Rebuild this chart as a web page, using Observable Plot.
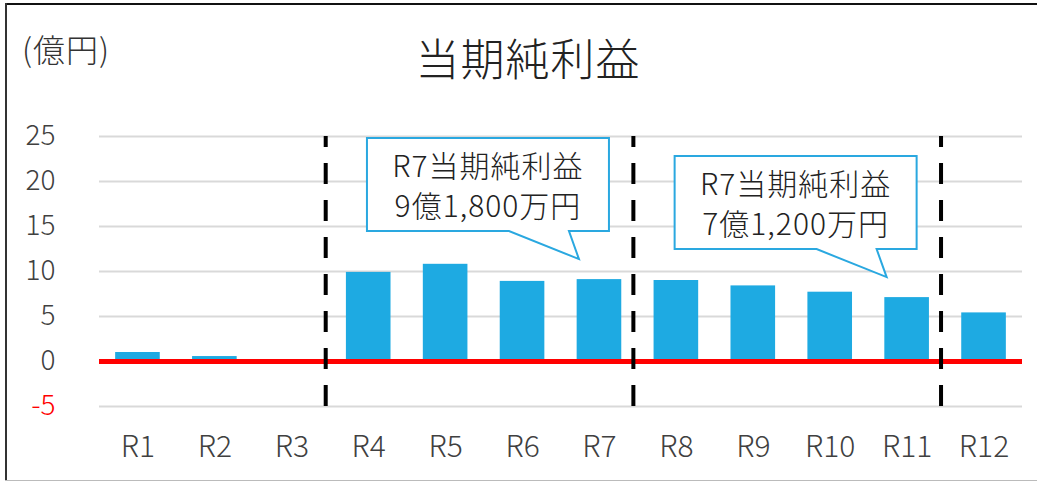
<!DOCTYPE html>
<html>
<head>
<meta charset="utf-8">
<script src="https://cdn.jsdelivr.net/npm/d3@7"></script>
<script src="https://cdn.jsdelivr.net/npm/@observablehq/plot@0.6"></script>
<style>
  html, body { margin: 0; padding: 0; background: #fff; }
  #wrap { position: relative; width: 1037px; height: 484px; overflow: hidden; background: #fff;
          font-family: "Noto Sans CJK JP", "Noto Sans", sans-serif; font-weight: 300; }
  #borderTop { position: absolute; left: 5px; top: 3px; width: 1032px; height: 2px; background: #111; }
  #borderLeft { position: absolute; left: 5px; top: 3px; width: 2px; height: 478px; background: #333; }
  #borderBottom { position: absolute; left: 5px; top: 480px; width: 1032px; height: 1px; background: #bbb; }
  #unit { position: absolute; left: 22px; top: 28px; font-size: 32px; line-height: 40px; color: #333; letter-spacing: 1px; }
  #title { position: absolute; left: 0; width: 1056px; top: 31px; text-align: center; font-size: 44px; line-height: 52px; color: #222; letter-spacing: 1px; }
  #chart { position: absolute; left: 0; top: 100px; }
</style>
</head>
<body>
<div id="wrap">
  <div id="borderTop"></div>
  <div id="borderLeft"></div>
  <div id="borderBottom"></div>
  <div id="unit">(億円)</div>
  <div id="title">当期純利益</div>
  <div id="chart"></div>
</div>
<script>
// ---- data ----
const categories = ["R1", "R2", "R3", "R4", "R5", "R6", "R7", "R8", "R9", "R10", "R11", "R12"];
const values = [1.0, 0.55, 0, 9.9, 10.8, 8.9, 9.1, 9.0, 8.4, 7.7, 7.1, 5.4];
const yTicks = [-5, 0, 5, 10, 15, 20, 25];
const dividerBefore = ["R4", "R8", "R12"];
const calloutTargets = ["R7", "R11"];
const calloutLine1 = ["R7当期純利益", "R7当期純利益"];
const calloutLine2 = ["9億1,800万円", "7億1,200万円"];

const data = categories.map((c, i) => ({cat: c, value: values[i]}));
const callouts = calloutTargets.map((t, i) => ({
  cat: t, value: values[categories.indexOf(t)], l1: calloutLine1[i], l2: calloutLine2[i]
}));

const FONT = "'Noto Sans CJK JP', 'Noto Sans', sans-serif";

function calloutMark(index, scales) {
  const g = d3.create("svg:g");
  const x = scales.x, y = scales.y;
  const bw = x.bandwidth ? x.bandwidth() : 0;
  for (const c of callouts) {
    const tx = x(c.cat) + bw / 2 - 20;
    const ty = y(c.value) - 20;
    const left = tx - 212, right = tx + 30, top = ty - 121, bottom = ty - 28;
    const path = `M${left},${top}H${right}V${bottom}H${tx - 10}L${tx},${ty}L${tx - 70},${bottom}H${left}Z`;
    g.append("path").attr("d", path).attr("fill", "white")
      .attr("stroke", "#2aa8e0").attr("stroke-width", 2);
    const cx = (left + right) / 2;
    [c.l1, c.l2].forEach((t, k) => {
      g.append("text").attr("x", cx).attr("y", top + 26 + k * 40)
        .attr("text-anchor", "middle").attr("dominant-baseline", "central")
        .attr("font-size", 30).attr("letter-spacing", 1).attr("font-weight", 300)
        .attr("font-family", FONT).attr("fill", "#222").text(t);
    });
  }
  return g.node();
}

const chart = Plot.plot({
  width: 1037,
  height: 384,
  marginLeft: 99,
  marginRight: 15,
  marginTop: 36,
  marginBottom: 78,
  style: {background: "transparent", fontFamily: FONT, fontWeight: 300, overflow: "visible"},
  x: {domain: categories, paddingInner: 0.42, paddingOuter: 0.21, round: false, axis: null},
  y: {domain: [-5, 25], axis: null},
  marks: [
    Plot.ruleY(yTicks.filter(t => t !== 0), {y: d => d, stroke: "#d9d9d9", strokeWidth: 2}),
    Plot.barY(data, {x: "cat", y: "value", fill: "#1eaae2"}),
    Plot.ruleY([0], {y: d => d, stroke: "#ff0000", strokeWidth: 5}),
    Plot.ruleX(dividerBefore, {x: d => d, y1: -5, y2: 25, dx: -43, stroke: "#000", strokeWidth: 4, strokeDasharray: "21,16"}),
    Plot.text(yTicks, {y: d => d, frameAnchor: "left", dx: -44, textAnchor: "end", text: d => String(d),
      fill: d => d < 0 ? "#ff0000" : "#404040", fontSize: 28, lineAnchor: "middle"}),
    Plot.text(categories, {x: d => d, frameAnchor: "bottom", dy: 41, text: d => d,
      fill: "#404040", fontSize: 30, lineAnchor: "middle"}),
    calloutMark
  ]
});
document.getElementById("chart").appendChild(chart);
</script>
</body>
</html>
